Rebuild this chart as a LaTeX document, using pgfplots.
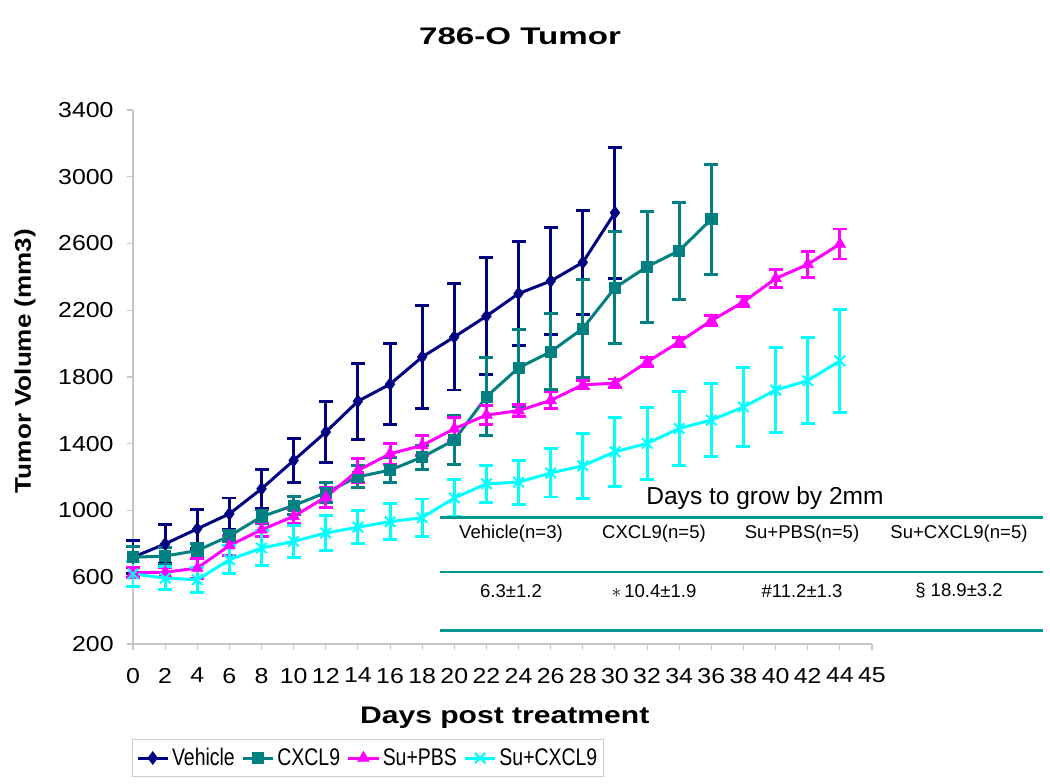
\documentclass[border=0pt]{standalone}
\usepackage{pgfplots}
\pgfplotsset{compat=1.18}
\usepackage{fontspec}
\setmainfont{Liberation Sans}[FakeStretch=1.15]
\newfontfamily\plainfont{Liberation Sans}
\newfontfamily\legfont{Liberation Sans}[FakeStretch=0.81]

\definecolor{vehicle}{RGB}{0,0,128}
\definecolor{cxcl}{RGB}{0,128,128}
\definecolor{supbs}{RGB}{255,0,255}
\definecolor{sucx}{RGB}{0,255,255}
\definecolor{tabline}{RGB}{0,150,145}

\begin{document}
\begin{tikzpicture}
\path[use as bounding box] (-99.75pt,-104.25pt) rectangle (687.75pt,483pt);
\begin{axis}[
    scale only axis,
    width=554.25pt, height=400.5pt,
    xmin=0, xmax=23, ymin=200, ymax=3400,
    xtick={0,...,23},
    xticklabels={0,2,4,6,8,10,12,14,16,18,20,22,24,26,28,30,32,34,36,38,40,42,44,45},
    ytick={200,600,...,3400},
    axis x line*=bottom, axis y line*=left,
    axis line style={gray!45, line width=0.8pt, -},
    tick style={gray!45, line width=0.8pt},
    tick align=outside, major tick length=4.5pt,
    tick label style={font=\fontsize{16.25}{18}\selectfont},
    xticklabel style={yshift=-10pt},
    yticklabel style={xshift=-6.5pt},
    /pgf/number format/assume math mode=true,
    /pgf/number format/1000 sep={},
    title={\scalebox{1.2}[1]{\bfseries\fontsize{18}{20}\selectfont 786-O Tumor}},
    title style={at={(0.5237,1.123)}, anchor=center},
    xlabel={\scalebox{1.09}[1]{\bfseries\fontsize{18}{20}\selectfont Days post treatment}},
    xlabel style={at={(axis description cs:0.503,-0.138)}, anchor=center},
    ylabel={\bfseries\fontsize{17}{20}\selectfont Tumor Volume (mm3)},
    ylabel style={at={(axis description cs:-0.146,0.530)}, anchor=center},
    legend columns=4,
    legend style={at={(0.318,-0.2135)}, anchor=center, draw=gray!40, line width=0.8pt,
        font=\legfont\fontsize{18}{21}\selectfont, inner ysep=4.5pt, inner xsep=3pt,
        /tikz/every even column/.append style={column sep=3pt}},
    legend image code/.code={\draw[mark repeat=2,mark phase=2] plot coordinates {(0cm,0cm) (0.4cm,0cm) (0.8cm,0cm)};},
    every axis plot/.append style={line width=2.25pt},
    error bars/y dir=both, error bars/y explicit,
    error bars/error bar style={line width=2.2pt},
    clip=false,
]
% Vehicle
\addplot[vehicle, mark=diamond*, mark size=4.8pt, mark options={line width=0.5pt},
    error bars/error mark options={rotate=90, mark size=5.25pt, line width=2.2pt}]
coordinates {
(0,720) +- (0,100) (1,800) +- (0,117) (2,890) +- (0,116) (3,980) +- (0,95)
(4,1130) +- (0,115) (5,1300) +- (0,130) (6,1470) +- (0,183) (7,1655) +- (0,228)
(8,1757) +- (0,243) (9,1920) +- (0,310) (10,2040) +- (0,318) (11,2165) +- (0,352)
(12,2300) +- (0,312) (13,2375) +- (0,320) (14,2487) +- (0,310) (15,2785) +- (0,393)
};
% CXCL9
\addplot[cxcl, mark=square*, mark size=4.2pt, mark options={line width=0.5pt},
    error bars/error mark options={rotate=90, mark size=5.25pt, line width=2.2pt}]
coordinates {
(0,720) +- (0,63) (1,727) +- (0,50) (2,760) +- (0,45) (3,847) +- (0,35)
(4,963) +- (0,40) (5,1030) +- (0,53) (6,1107) +- (0,60) (7,1202) +- (0,66)
(8,1242) +- (0,73) (9,1320) +- (0,72) (10,1422) +- (0,148) (11,1682) +- (0,235)
(12,1855) +- (0,230) (13,1951) +- (0,227) (14,2091) +- (0,292) (15,2335) +- (0,335)
(16,2461) +- (0,332) (17,2557) +- (0,290) (18,2746) +- (0,330)
};
% Su+PBS
\addplot[supbs, mark=triangle*, mark size=5pt, mark options={line width=0.5pt},
    error bars/error mark options={rotate=90, mark size=5.25pt, line width=2.2pt}]
coordinates {
(0,627) +- (0,30) (1,630) +- (0,30) (2,655) +- (0,60) (3,790) +- (0,60)
(4,885) +- (0,40) (5,965) +- (0,40) (6,1080) +- (0,60) (7,1240) +- (0,72)
(8,1340) +- (0,62) (9,1390) +- (0,62) (10,1490) +- (0,70) (11,1572) +- (0,55)
(12,1598) +- (0,35) (13,1660) +- (0,50) (14,1753) +- (0,25) (15,1763) +- (0,25)
(16,1890) +- (0,25) (17,2010) +- (0,25) (18,2138) +- (0,30) (19,2250) +- (0,30)
(20,2390) +- (0,55) (21,2475) +- (0,78) (22,2597) +- (0,90)
};
% Su+CXCL9
\addplot[sucx, mark=x, mark size=5.5pt, mark options={line width=1.5pt},
    error bars/error mark options={rotate=90, mark size=5.25pt, line width=2.2pt}]
coordinates {
(0,620) +- (0,75) (1,595) +- (0,70) (2,585) +- (0,75) (3,705) +- (0,85)
(4,775) +- (0,105) (5,815) +- (0,97) (6,865) +- (0,104) (7,900) +- (0,100)
(8,933) +- (0,107) (9,957) +- (0,112) (10,1075) +- (0,108) (11,1160) +- (0,110)
(12,1170) +- (0,132) (13,1225) +- (0,144) (14,1268) +- (0,195) (15,1352) +- (0,206)
(16,1402) +- (0,214) (17,1492) +- (0,222) (18,1542) +- (0,221) (19,1620) +- (0,236)
(20,1722) +- (0,255) (21,1778) +- (0,257) (22,1897) +- (0,308)
};
\legend{Vehicle, CXCL9, Su+PBS, Su+CXCL9}
\end{axis}

% inset table: days to grow by 2mm
\draw[tabline, line width=2.25pt] (230.25pt,95.25pt) -- (682.5pt,95.25pt);
\draw[tabline, line width=1.5pt] (230.25pt,54pt) -- (682.5pt,54pt);
\draw[tabline, line width=2.25pt] (230.25pt,10.5pt) -- (682.5pt,10.5pt);
\node[font=\plainfont\fontsize{18.4}{20}\selectfont] at (474pt,109.5pt) {Days to grow by 2mm};
\begin{scope}[every node/.style={font=\plainfont\fontsize{13.9}{16}\selectfont}]
\node at (283.5pt,82.5pt) {Vehicle(n=3)};
\node at (390.75pt,82.5pt) {CXCL9(n=5)};
\node at (501.75pt,82.5pt) {Su+PBS(n=5)};
\node at (619.5pt,82.5pt) {Su+CXCL9(n=5)};
\node at (283.5pt,39.75pt) {6.3±1.2};
\node at (390.75pt,39.75pt) {$\ast$\,10.4±1.9};
\node at (501.75pt,39.75pt) {\#11.2±1.3};
\node at (619.5pt,39.75pt) {§ 18.9±3.2};
\end{scope}
\end{tikzpicture}
\end{document}
